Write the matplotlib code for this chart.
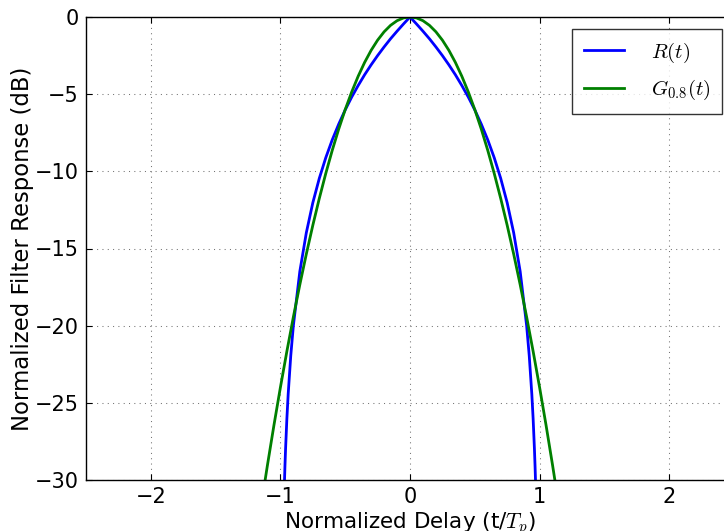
import matplotlib
matplotlib.use("Agg")
import matplotlib.pyplot as plt

plt.rcParams['mathtext.fontset'] = 'cm'
plt.rcParams['font.family'] = ['DejaVu Sans']

# R(t) samples (normalized delay, dB)
t_R = [-0.975, -0.97, -0.965, -0.96, -0.95, -0.94, -0.92, -0.9, -0.85, -0.8, -0.75, -0.7,
       -0.65, -0.6, -0.55, -0.5, -0.45, -0.4, -0.35, -0.3, -0.25, -0.2, -0.15,
       -0.1, -0.05, 0.0, 0.05, 0.1, 0.15, 0.2, 0.25, 0.3, 0.35, 0.4, 0.45, 0.5,
       0.55, 0.6, 0.65, 0.7, 0.75, 0.8, 0.85, 0.9, 0.92, 0.94, 0.95, 0.96, 0.965, 0.97, 0.975]
R_db = [-32.04, -30.46, -29.12, -27.96, -26.02, -24.44, -21.94, -20.0, -16.48, -13.98, -12.04, -10.46,
        -9.12, -7.96, -6.94, -6.02, -5.19, -4.44, -3.74, -3.10, -2.50, -1.94, -1.41,
        -0.92, -0.45, 0.0, -0.45, -0.92, -1.41, -1.94, -2.50, -3.10, -3.74, -4.44, -5.19, -6.02,
        -6.94, -7.96, -9.12, -10.46, -12.04, -13.98, -16.48, -20.0, -21.94, -24.44, -26.02, -27.96, -29.12, -30.46, -32.04]

# G_0.8(t) samples
t_G = [-1.15, -1.1, -1.05, -1.0, -0.95, -0.9, -0.85, -0.8, -0.75, -0.7, -0.65, -0.6,
       -0.55, -0.5, -0.45, -0.4, -0.35, -0.3, -0.25, -0.2, -0.15, -0.1, -0.05, 0.0,
       0.05, 0.1, 0.15, 0.2, 0.25, 0.3, 0.35, 0.4, 0.45, 0.5, 0.55, 0.6, 0.65, 0.7,
       0.75, 0.8, 0.85, 0.9, 0.95, 1.0, 1.05, 1.1, 1.15]
G_db = [-31.74, -29.04, -26.46, -24.0, -21.66, -19.44, -17.34, -15.36, -13.5, -11.76, -10.14, -8.64,
        -7.26, -6.0, -4.86, -3.84, -2.94, -2.16, -1.5, -0.96, -0.54, -0.24, -0.06, 0.0,
        -0.06, -0.24, -0.54, -0.96, -1.5, -2.16, -2.94, -3.84, -4.86, -6.0, -7.26, -8.64, -10.14, -11.76,
        -13.5, -15.36, -17.34, -19.44, -21.66, -24.0, -26.46, -29.04, -31.74]

x_ticks = [-2, -1, 0, 1, 2]
y_ticks = [0, -5, -10, -15, -20, -25, -30]

fig = plt.figure(figsize=(7.24, 5.31), dpi=100, facecolor='white')
ax = fig.add_axes([86/724, 51/531, 648/724, 463/531])

ax.plot(t_R, R_db, color='#0000ff', lw=2, label=r'$R(t)$')
ax.plot(t_G, G_db, color='#008000', lw=2, label=r'$G_{0.8}(t)$')

ax.set_xlim(-2.5, 2.5)
ax.set_ylim(-30, 0)
ax.set_xticks(x_ticks)
ax.set_yticks(y_ticks)
ax.tick_params(direction='in', top=True, right=True, length=4, labelsize=15, pad=5)
ax.grid(True, color='0.45', linestyle=(0, (1, 4.1)), linewidth=0.75)
for s in ax.spines.values():
    s.set_linewidth(1.0)

ax.set_xlabel(r'Normalized Delay (t/$T_p$)', fontsize=15.5, labelpad=2)
ax.set_ylabel('Normalized Filter Response (dB)', fontsize=16.4, labelpad=1)

leg = ax.legend(loc='upper right', bbox_to_anchor=(722/724, 1 - 29/531),
                bbox_transform=fig.transFigure, borderaxespad=0, fontsize=15,
                fancybox=False, handlelength=1.9, borderpad=0.55, labelspacing=0.65,
                handletextpad=1.3)
leg.get_frame().set_edgecolor('k')
leg.get_frame().set_linewidth(1.0)

fig.savefig('out.png', dpi=100, facecolor='white')
